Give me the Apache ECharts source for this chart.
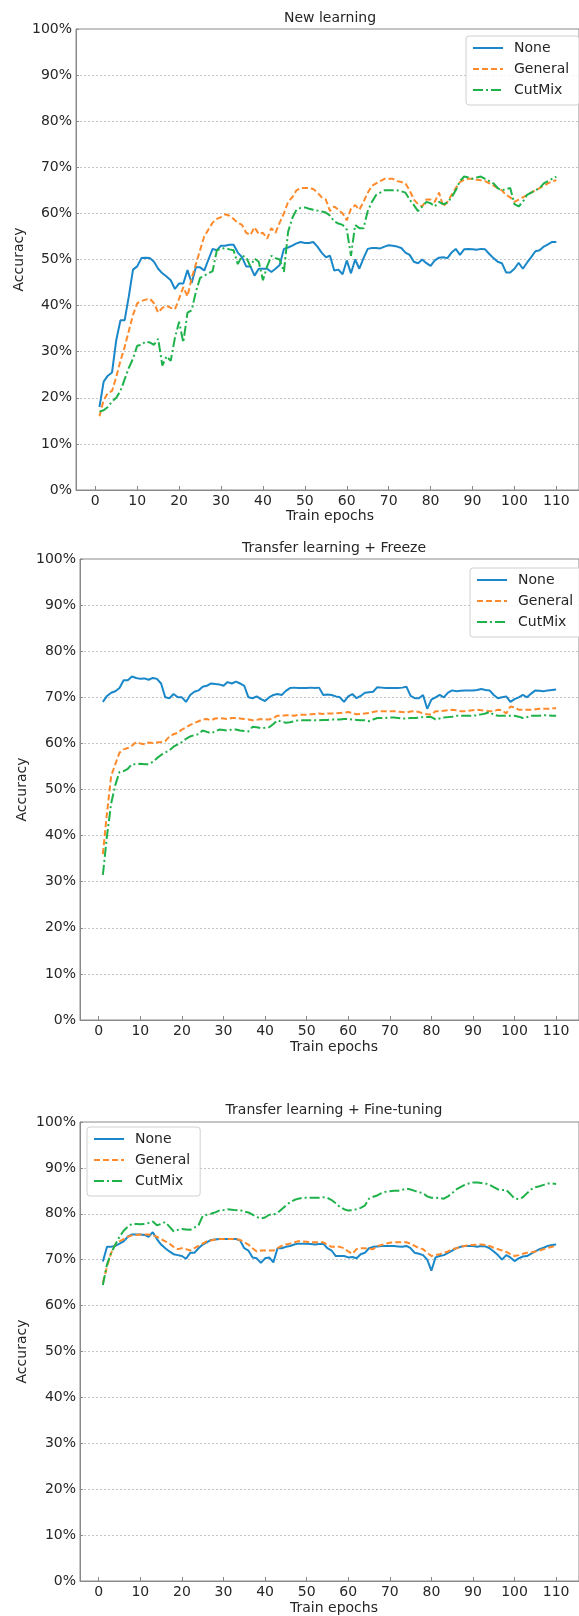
<!DOCTYPE html>
<html><head><meta charset="utf-8">
<script src="https://cdn.jsdelivr.net/npm/echarts@6/dist/echarts.min.js"></script>
<style>html,body{margin:0;padding:0;background:#fff;overflow:hidden}#c{width:579px;height:1616px}</style>
</head><body><div id="c"></div>
<script>
// ---------------- data ----------------
const epochs = Array.from({length:110},(_,i)=>i+1);
const xTickValues = [0,10,20,30,40,50,60,70,80,90,100,110];
const seriesNames = ['None','General','CutMix'];
const panelTitles = ['New learning','Transfer learning + Freeze','Transfer learning + Fine-tuning'];
const xAxisTitle = 'Train epochs';
const yAxisTitle = 'Accuracy';

// Panel 1: New learning
const newNone = [18,23.5,24.8,25.5,32.5,36.8,36.8,42,47.8,48.5, 50.3,50.4,50.3,49.5,48,47,46.3,45.5,43.6,44.8,
 44.8,47.7,44.9,48.3,48.3,47.6,50,52.3,52,53, 53,53.2,53.2,51.5,50.5,48.5,48.5,46.5,48,48,
 48,47.3,48,48.8,52.3,52.6,53,53.5,53.8,53.6, 53.6,53.8,52.8,51.5,50.5,50.8,47.6,47.8,46.8,49.8,
 47,50,48,50.3,52.3,52.5,52.5,52.4,52.8,53.1, 53,52.8,52.5,51.5,51,49.5,49.2,50,49.2,48.6,
 49.8,50.4,50.5,50.3,51.5,52.3,51,52.2,52.3,52.2, 52.1,52.3,52.2,51.2,50.3,49.5,49.2,47.2,47.2,48,
 49.3,48,49.3,50.5,51.8,52,52.8,53.3,53.8,53.8];
const newGeneral = [16,19.5,21,21.5,24.5,28,31,34.5,38,40.5, 41,41.3,41.5,40.5,38.5,39.5,40,39.5,39.2,41.5,
 44,42,46,49,52,55,56.5,58,58.8,59.2, 59.8,59.5,58.8,58,57.5,55.8,55.3,57,55.5,55.8,
 54.5,56.8,55.8,58,60,62.5,63.5,65,65.5,65.5, 65.5,65.3,64.5,63.5,63,60.5,61.5,60.8,60,58.5,
 61,61.8,60.8,62.5,64.5,66,66.5,67,67.5,67.5, 67.5,67,66.8,66.5,65,63,62,61.5,63,63,
 62.5,64.5,61.5,62.5,64,65.5,66.8,67.3,67.5,67.5, 67.3,67.2,67,66.5,66,65.5,65,64,63.5,62.5,
 63,63.5,64,64.5,65,65.5,66,66.5,67,67.2];
const newCutMix = [17,17.3,18,19.2,20,21.5,24,26.5,28.5,31.3, 31.5,32.2,32,31.5,32.8,27,29,28,33,36.5,
 32,38.5,39,43,46,46.5,47,47.5,52,52.3, 52.5,52.2,52,49,50.8,50.5,48.5,50.2,49.5,45.5,
 48.5,50.8,50.3,50,47.3,56,59,60.8,61.2,61.3, 61,60.8,60.6,60.4,60.2,59.5,58.3,57.8,57.5,56.5,
 50.8,57.5,56.8,56.8,60.5,62.5,64,64.5,65,65, 65,65,64.8,64.5,63,61.8,60.5,61.5,62.5,62.2,
 61.5,62.5,62,62.3,63.5,65,67,68,67.8,67.5, 67.8,68,67.5,67,66.5,65.5,65,65.3,65.5,62,
 61.5,62.5,64,64.5,65,65.5,66.5,67,67.5,68];

// Panel 2: Transfer learning + Freeze
const frzNone = [69,70.3,71,71.3,72,73.7,73.7,74.5,74.2,74, 74.1,73.8,74.2,74,73,70,69.8,70.7,70,70,
 69,70.5,71.2,71.5,72.3,72.5,73,72.9,72.8,72.5, 73.3,73,73.4,73,72.5,70,69.8,70.2,69.6,69.2,
 70,70.5,70.7,70.5,71.4,72,72.1,72,72,72, 72.1,72,72.1,70.5,70.6,70.5,70.2,70,69,70.2,
 70.7,69.8,70.3,71,71.1,71.2,72.2,72.1,72,72, 72,72,72.1,72.3,70.3,69.8,69.8,70.5,67.5,69.5,
 70,70.5,70,71,71.5,71.3,71.4,71.5,71.5,71.5, 71.6,71.8,71.6,71.5,70.5,69.8,70,70.2,69,69.6,
 70,70.5,70,70.8,71.5,71.4,71.3,71.5,71.6,71.7];
const frzGeneral = [36,45,53,55.5,58,58.7,59,59.5,60.3,60, 59.8,60.2,60.1,60.2,60.3,60.5,61.5,62,62.3,63,
 63.5,64,64.4,64.8,65.2,65.3,65,65.4,65.5,65.4, 65.3,65.5,65.5,65.4,65.3,65.2,65,65.1,65.3,65.2,
 65.2,65.5,66,66,66.1,66.1,66,66.2,66.2,66.2, 66.3,66.4,66.5,66.4,66.5,66.5,66.5,66.6,66.7,66.8,
 66.6,66.3,66.4,66.5,66.6,66.8,67,67,67,67, 67,66.9,66.8,66.7,66.9,67,66.8,66.5,66.3,66.2,
 67,67,67.1,67.2,67.3,67.2,67,67,67.1,67.2, 67.3,67.2,67.1,67,67,67.3,67.2,66.5,68,67.8,
 67.3,67.3,67.3,67.3,67.4,67.5,67.5,67.5,67.6,67.6];
const frzCutMix = [31.5,40,47,51,53.8,54,54.5,55.5,55.5,55.6, 55.5,55.5,56,56.8,57.5,58,58.5,59.3,59.8,60.3,
 61,61.5,61.8,62,62.8,62.5,62.2,62.6,63,62.9, 62.8,63,63,62.8,62.7,62.6,63.6,63.5,63.3,63.4,
 63.5,64.2,65,64.7,64.5,64.6,64.8,65,65,65, 65,65,65,65.1,65.1,65.2,65.2,65.2,65.3,65.3,
 65.2,65.1,65,65,64.8,65.2,65.5,65.5,65.5,65.6, 65.6,65.5,65.4,65.4,65.5,65.5,65.6,65.7,65.7,65.7,
 65.2,65.4,65.6,65.7,65.8,66,66,66,66,66, 66.1,66.3,66.5,66.8,66.2,66,66,66,66,66,
 65.8,65.5,65.7,66,66,66,66.1,66.1,66,66];

// Panel 3: Transfer learning + Fine-tuning
const ftNone = [69.6,72.8,72.8,73,73.5,74,75,75.5,75.5,75.5, 75.4,75,76,74.5,73.3,72.5,71.8,71.2,71,70.8,
 70.2,71.5,71.5,72.5,73.3,73.8,74.3,74.4,74.5,74.5, 74.5,74.5,74.5,74.2,72.5,72,70.5,70.3,69.3,70.3,
 70.5,69.4,72.5,72.5,72.8,73,73.3,73.5,73.5,73.5, 73.4,73.3,73.4,73.5,72.5,72,70.8,70.8,70.8,70.5,
 70.6,70.3,71.2,71.5,72.5,72.8,72.9,73,73,73, 73,72.9,72.8,73,72.5,71.5,71.3,71,70,67.6,
 70.5,70.8,71,71.5,72,72.5,72.8,73,73,73, 72.8,73,72.9,72.5,71.8,71,70,71,70.5,69.7,
 70.3,70.7,70.8,71.3,71.8,72.3,72.6,73,73.2,73.3];
const ftGeneral = [65,68.5,71.5,73.3,74,74.5,75,75.3,75.4,75.5, 75.5,75.5,75.3,75,74.5,74,73.5,72.8,72.3,72.5,
 72.3,72,72.5,73,73.5,74,74.2,74.4,74.5,74.5, 74.5,74.5,74.5,74.3,73.8,73.3,72.5,71.8,72,72,
 72,72,72.5,73,73.3,73.5,73.8,74,74,73.9, 73.8,73.8,73.8,73.8,73.3,72.8,72.8,72.8,72.5,71.8,
 71.3,72.3,72.5,72.5,72.4,72.3,73,73.2,73.5,73.7, 73.8,73.8,73.8,73.8,73.5,73,72.5,72.3,71.5,70.8,
 71,71.2,71.5,71.8,72.3,72.5,72.8,73,73.2,73.2, 73.3,73.3,73.2,73,72.6,72.3,72,71.7,71.2,70.8,
 71,71.3,71.5,71.6,71.8,72,72.3,72.6,72.8,73];
const ftCutMix = [64.5,69,71.5,73.3,75,76.3,77.2,77.8,77.8,77.7, 77.8,78,78.3,77.5,77.8,78.2,77.2,76.2,76.5,76.7,
 76.6,76.5,77,77.5,79.5,79.8,80,80.3,80.7,80.8, 81,80.9,80.8,80.8,80.5,80.3,79.8,79.3,79,79.2,
 79.8,79.8,80.2,81,81.8,82.5,83,83.3,83.5,83.5, 83.5,83.5,83.5,83.6,83.5,83,82.3,81.5,81,80.7,
 80.8,81,81.3,81.8,83.3,83.7,84,84.5,84.8,84.9, 85,85,85.2,85.5,85.3,85,84.7,84.5,83.8,83.5,
 83.5,83.4,83.3,83.8,84.5,85.3,85.8,86.3,86.6,86.8, 86.8,86.7,86.6,86.3,85.8,85.3,85.2,85.2,84.3,83.3,
 83.2,83.6,84.5,85.3,85.8,86,86.3,86.6,86.6,86.5];

const panelData = [
  [newNone, newGeneral, newCutMix],
  [frzNone, frzGeneral, frzCutMix],
  [ftNone, ftGeneral, ftCutMix]
];

// ---------------- layout / style ----------------
const layout = [
  {top:29, height:461, left:76, width:509, xmin:-4.6, xmax:115.4, titleX:330, titleY:18, xlabY:516, ylabX:19, legend:{left:466, top:36}},
  {top:559, height:461, left:80, width:508, xmin:-4.5, xmax:115.5, titleX:334, titleY:548, xlabY:1047, ylabX:22, legend:{left:470, top:568}},
  {top:1122, height:459, left:80, width:508, xmin:-4.5, xmax:115.5, titleX:334, titleY:1110, xlabY:1608, ylabX:22, legend:{left:87, top:1127}}
];
const colors = ['#1a87c9', '#ff8a2b', '#1fb24a'];
const lineTypes = ['solid', [6,3], [10,3,2,3]];
const textColor = '#262626';
const font = '14px "DejaVu Sans", sans-serif';
const axisColor = '#8a8a8a';

const grids=[], xAxes=[], yAxes=[], series=[], legends=[], graphics=[];
layout.forEach((L, p) => {
  grids.push({left:L.left, top:L.top, width:L.width, height:L.height, show:true, borderColor:axisColor, borderWidth:1, backgroundColor:'transparent', containLabel:false});
  xAxes.push({type:'value', gridIndex:p, min:L.xmin, max:L.xmax,
    axisLine:{show:true, onZero:false, lineStyle:{color:axisColor, width:1}},
    axisTick:{show:true, inside:true, length:4, customValues:xTickValues, lineStyle:{color:axisColor}},
    axisLabel:{show:true, customValues:xTickValues, margin:4, color:textColor, fontSize:14, fontFamily:'DejaVu Sans'},
    splitLine:{show:false}});
  yAxes.push({type:'value', gridIndex:p, min:0, max:100, interval:10,
    axisLine:{show:true, onZero:false, lineStyle:{color:axisColor, width:1}},
    axisTick:{show:true, inside:true, length:3, lineStyle:{color:axisColor}},
    axisLabel:{show:true, formatter:'{value}%', margin:4, color:textColor, fontSize:14, fontFamily:'DejaVu Sans'},
    splitLine:{show:true, lineStyle:{color:'#c4c4c4', type:[2,2], width:1}}});
  panelData[p].forEach((arr, s) => {
    series.push({type:'line', name:seriesNames[s], xAxisIndex:p, yAxisIndex:p,
      data: epochs.map((e,i)=>[e, arr[i]]), symbol:'none', showSymbol:false, smooth:false,
      lineStyle:{color:colors[s], width:2, type:lineTypes[s]}, itemStyle:{color:colors[s]},
      emphasis:{disabled:true}, animation:false, z:2+s});
  });
  legends.push({orient:'vertical', left:L.legend.left, top:L.legend.top, data:seriesNames,
    itemWidth:30, itemHeight:14, itemGap:7, padding:[5,10,8,6],
    itemStyle:{opacity:0, color:'transparent', borderWidth:0},
    backgroundColor:'rgba(255,255,255,0.85)', borderColor:'#d0d0d0', borderWidth:1, borderRadius:3,
    textStyle:{color:textColor, fontSize:14, fontFamily:'DejaVu Sans', padding:[0,0,0,6]},
    selectedMode:false});
  graphics.push({type:'text', x:L.titleX, y:L.titleY, style:{text:panelTitles[p], font:font, fill:textColor, textAlign:'center', textVerticalAlign:'middle'}});
  graphics.push({type:'text', x:L.titleX, y:L.xlabY, style:{text:xAxisTitle, font:font, fill:textColor, textAlign:'center', textVerticalAlign:'middle'}});
  graphics.push({type:'text', x:L.ylabX, y:L.top + L.height/2, rotation:Math.PI/2, style:{text:yAxisTitle, font:font, fill:textColor, textAlign:'center', textVerticalAlign:'middle'}});
});

const chart = echarts.init(document.getElementById('c'), null, {renderer:'canvas', width:579, height:1616});
chart.setOption({
  animation:false, backgroundColor:'#ffffff',
  grid:grids, xAxis:xAxes, yAxis:yAxes, series:series, legend:legends, graphic:graphics
});
</script>
</body></html>
